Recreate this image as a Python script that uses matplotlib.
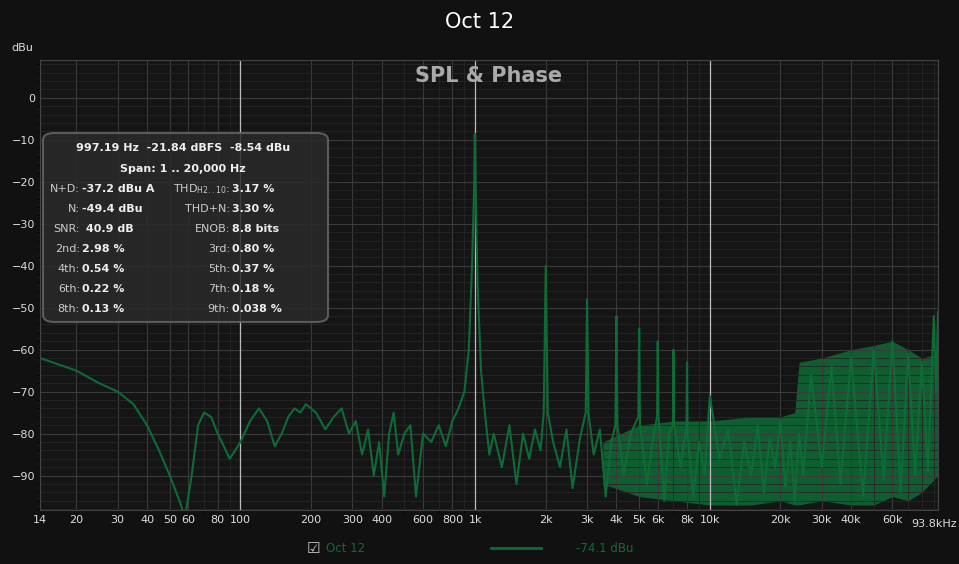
import numpy as np
import matplotlib.pyplot as plt
from matplotlib.patches import FancyBboxPatch
from matplotlib.ticker import FixedLocator, NullFormatter

# main trace (Hz, dBu)
freq = [14, 20, 25, 30, 35, 40, 45, 50, 55, 58, 62, 66, 70, 75, 80, 85, 90, 95, 100,
        110, 120, 130, 140, 150, 160, 170, 180, 190, 210, 230, 250, 270, 290, 310,
        330, 350, 370, 390, 410, 430, 450, 470, 500, 530, 560, 600, 650, 700, 750,
        800, 850, 900, 940, 970, 990, 997, 1005, 1025, 1060, 1100, 1150, 1200, 1300, 1400,
        1500, 1600, 1700, 1800, 1900, 1960, 2000, 2040, 2150, 2300, 2450, 2600,
        2800, 2960, 3000, 3040, 3200, 3400, 3600, 3800, 3960, 4000, 4040, 4300,
        4600, 4960, 5000, 5040, 5400, 5700, 5960, 6000, 6040, 6400, 6700, 6960,
        7000, 7040, 7500, 7960, 8000, 8040, 8500, 9000, 9500, 10000, 11000, 12000,
        13000, 14000, 15000, 16000, 17000, 18000, 19000, 20000, 21000, 22000,
        23000, 24000, 25000, 27000, 30000, 33000, 36000, 40000, 45000, 50000,
        55000, 60000, 65000, 70000, 75000, 80000, 85000, 90000, 92000, 93800]
level = [-62, -65, -68, -70, -73, -78, -84, -90, -96, -100, -90, -78, -75, -76, -80,
         -83, -86, -84, -82, -77, -74, -77, -83, -80, -76, -74, -75, -73, -75, -79,
         -76, -74, -80, -77, -85, -79, -90, -82, -95, -80, -75, -85, -80, -78, -95,
         -80, -82, -78, -83, -77, -74, -70, -60, -40, -22, -8.5, -22, -45, -65, -75, -85, -80,
         -88, -78, -92, -80, -86, -79, -84, -75, -40, -75, -82, -88, -79, -93, -81,
         -75, -48, -75, -85, -79, -95, -82, -78, -52, -78, -90, -80, -76, -55, -78,
         -92, -82, -76, -58, -76, -96, -80, -78, -60, -78, -88, -78, -63, -80, -95,
         -82, -90, -71, -86, -79, -97, -82, -90, -78, -94, -81, -88, -77, -93, -82,
         -96, -80, -90, -66, -88, -64, -92, -62, -95, -60, -91, -58, -94, -61, -90,
         -63, -89, -52, -70, -51]

# noise envelope in the upper band (Hz, low dBu, high dBu)
env_freq = [3500, 5000, 7000, 10000, 15000, 20000, 23000, 24000, 30000, 40000,
            50000, 60000, 70000, 80000, 93800]
env_lo = [-92, -95, -96, -97, -97, -96, -97, -97, -96, -97, -97, -95, -96, -94, -90]
env_hi = [-82, -78, -77, -77, -76, -76, -75, -63, -62, -60, -59, -58, -60, -62, -61]

ticks = [14, 20, 30, 40, 50, 60, 80, 100, 200, 300, 400, 600, 800, 1000, 2000,
         3000, 4000, 5000, 6000, 8000, 10000, 20000, 30000, 40000, 60000, 93800]
tick_labels = ['14', '20', '30', '40', '50', '60', '80', '100', '200', '300', '400',
               '600', '800', '1k', '2k', '3k', '4k', '5k', '6k', '8k', '10k', '20k',
               '30k', '40k', '60k', '']
yticks = [0, -10, -20, -30, -40, -50, -60, -70, -80, -90]

green = '#0f6b36'
fig = plt.figure(figsize=(9.59, 5.64), dpi=100, facecolor='#111111')
ax = fig.add_axes([40/959, 1-510/564, 898/959, 450/564])
ax.set_facecolor('#151515')
ax.set_xscale('log')
ax.set_xlim(14, 93800)
ax.set_ylim(-98.2, 9)

minor = []
for dec in [10, 100, 1000, 10000]:
    minor += [dec * k for k in range(1, 10)]
ax.xaxis.set_minor_locator(FixedLocator([m for m in minor if 14 < m < 93800]))
ax.xaxis.set_minor_formatter(NullFormatter())
ax.set_xticks(ticks)
ax.set_xticklabels(tick_labels)
ax.set_yticks(yticks)
ax.set_yticks(np.arange(-98, 9, 2), minor=True)
ax.grid(which='major', color='#3a3a3a', lw=0.8)
ax.grid(which='minor', color='#262626', lw=0.6)
for v in [100, 1000, 10000]:
    ax.axvline(v, color='#bbbbbb', lw=0.9)
ax.tick_params(colors='#dddddd', labelsize=8, length=0)
for s in ax.spines.values():
    s.set_color('#444444')

ax.fill_between(env_freq, env_lo, env_hi, color=green, lw=0, alpha=0.85)
ax.plot(freq, level, color=green, lw=1.5)

fig.text(957/959, 1-524/564, '93.8kHz', color='#dddddd', fontsize=8, ha='right', va='center')
fig.text(0.5, 1-22/564, 'Oct 12', color='white', fontsize=15, ha='center', va='center')
fig.text(22/959, 1-48/564, 'dBu', color='#dddddd', fontsize=8, ha='center', va='center')
ax.text(0.5, 0.965, 'SPL & Phase', transform=ax.transAxes, color='#aaaaaa',
        fontsize=15, fontweight='bold', ha='center', va='center')

box = FancyBboxPatch((43/959, 1-322/564), 285/959, 189/564, transform=fig.transFigure,
                     boxstyle='round,pad=0,rounding_size=0.012', fc='#2a2a2a', ec='#666666',
                     lw=1.5, alpha=0.85, zorder=5)
fig.add_artist(box)
fc = '#eeeeee'
fs = 8
fig.text(183/959, 1-148/564, '997.19 Hz  -21.84 dBFS  -8.54 dBu', color=fc, fontsize=fs,
         fontweight='bold', ha='center', va='center', zorder=6)
fig.text(183/959, 1-169/564, 'Span: 1 .. 20,000 Hz', color=fc, fontsize=fs,
         fontweight='bold', ha='center', va='center', zorder=6)
rows = [('N+D:', '-37.2 dBu A', 'THD$_{\\mathrm{H2..10}}$:', '3.17 %'),
        ('N:', '-49.4 dBu', 'THD+N:', '3.30 %'),
        ('SNR:', ' 40.9 dB', 'ENOB:', '8.8 bits'),
        ('2nd:', '2.98 %', '3rd:', '0.80 %'),
        ('4th:', '0.54 %', '5th:', '0.37 %'),
        ('6th:', '0.22 %', '7th:', '0.18 %'),
        ('8th:', '0.13 %', '9th:', '0.038 %')]
for i, (a, b, c, d) in enumerate(rows):
    y = 1 - (189 + 20 * i) / 564
    fig.text(80/959, y, a, color='#cccccc', fontsize=fs, ha='right', va='center', zorder=6)
    fig.text(82/959, y, b, color=fc, fontsize=fs, fontweight='bold', ha='left', va='center', zorder=6)
    fig.text(230/959, y, c, color='#cccccc', fontsize=fs, ha='right', va='center', zorder=6)
    fig.text(232/959, y, d, color=fc, fontsize=fs, fontweight='bold', ha='left', va='center', zorder=6)

fig.text(313/959, 1-548/564, '☑', color='#cccccc', fontsize=11, ha='center', va='center')
fig.text(326/959, 1-548/564, 'Oct 12', color=green, fontsize=8.5, ha='left', va='center')
fig.add_artist(plt.Line2D([491/959, 541/959], [1-548/564]*2, color=green, lw=2))
fig.text(576/959, 1-548/564, '-74.1 dBu', color=green, fontsize=8.5, ha='left', va='center')

fig.savefig('out.png', dpi=100, facecolor=fig.get_facecolor())
